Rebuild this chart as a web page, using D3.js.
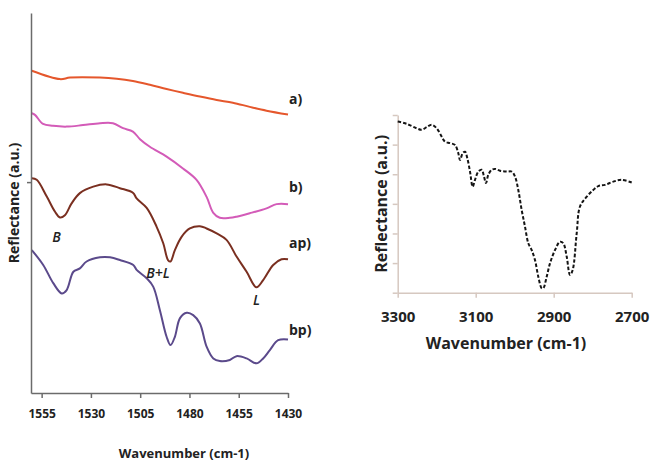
<!DOCTYPE html>
<html>
<head>
<meta charset="utf-8">
<title>Reflectance spectra</title>
<style>
  body { margin: 0; background: #fff; }
  svg { display: block; }
  text { font-family: 'Open Sans', sans-serif; font-weight: bold; fill: #222; }
  .left-axis path, .left-axis line { stroke: #6b6b6b; stroke-width: 1.5; }
  .right-axis path, .right-axis line { stroke: #d6c8c0; stroke-width: 1.5; }
  .spectrum { fill: none; stroke-width: 2; stroke-linejoin: round; }
</style>
</head>
<body>
<script src="https://cdn.jsdelivr.net/npm/d3@7"></script>
<script>

// left panel: 1560-1430 cm-1, four spectra (a.u.)
var aWave  = [1560, 1545.7, 1540.6, 1525.4, 1516.9, 1508.7, 1500.1, 1491.6, 1483.3, 1474.7, 1466.2, 1458, 1449.4, 1440.9, 1430];
var aRefl  = [84.8, 82.6, 83.0, 83.0, 82.7, 82.1, 81.1, 80.0, 79.0, 78.0, 77.1, 76.4, 75.3, 74.3, 73.3];

var bWave  = [1560, 1558.4, 1554.3, 1549.2, 1542.3, 1534, 1525.4, 1518.8, 1513.7, 1508.7, 1505.1, 1500.1, 1491.6, 1483.3, 1476.4, 1471.3, 1467.9, 1464.6, 1459.5, 1456.1, 1449.4, 1440.9, 1435.8, 1430];
var bRefl  = [73.6, 73.2, 70.8, 70.3, 70.1, 70.5, 71.0, 71.0, 69.7, 68.8, 66.8, 64.8, 62.2, 59.1, 56.1, 51.6, 47.4, 46.1, 46.1, 46.4, 47.3, 48.6, 49.7, 49.7];

var apWave = [1560, 1557.5, 1552.4, 1548.2, 1545.7, 1543.2, 1539.8, 1535.6, 1528.8, 1522, 1515.3, 1508.7, 1506.8, 1501.7, 1496.7, 1493.3, 1490.8, 1489.6, 1487.4, 1484, 1479.8, 1474.7, 1471.3, 1466.2, 1461.2, 1456.1, 1451, 1446, 1442.6, 1437.5, 1433.3, 1430];
var apRefl = [56.5, 56.1, 51.7, 47.7, 46.2, 46.8, 49.9, 52.6, 54.3, 54.9, 53.9, 52.7, 51.2, 48.7, 43.8, 39.4, 34.9, 34.6, 37.6, 41.1, 43.3, 43.9, 43.3, 42.0, 40.3, 35.9, 31.9, 27.8, 29.7, 33.7, 35.2, 35.2];

var bpWave = [1560, 1554.2, 1549.1, 1544.8, 1542.3, 1538.9, 1535.6, 1532.2, 1525.4, 1520.3, 1515.3, 1508.5, 1506.8, 1501.7, 1498.4, 1495, 1491.6, 1489.6, 1487.4, 1484.8, 1481.4, 1478.1, 1474.7, 1471.3, 1467.9, 1464.6, 1459.5, 1456.1, 1451, 1446, 1442.6, 1439.2, 1435, 1430];
var bpRefl = [37.6, 33.7, 28.9, 26.2, 27.1, 31.9, 32.8, 34.6, 35.7, 35.7, 35.0, 33.7, 32.4, 30.2, 28.0, 21.8, 14.8, 12.6, 14.8, 19.7, 21.1, 20.5, 18.3, 12.2, 9.1, 8.4, 8.7, 9.7, 9.1, 7.8, 9.1, 11.3, 13.9, 14.1];

var leftTicks = [1555, 1530, 1505, 1480, 1455, 1430];
var seriesNames  = ["a)", "b)", "ap)", "bp)"];
var seriesColors = ["#e5572c", "#d35bb8", "#7a2f20", "#5b4a8b"];
var nameShift    = [-10, -12, -11, -4]; // px above the end of each line

// peak labels (italic): text, wavenumber, reflectance
var peakText = ["B", "B+L", "L"];
var peakWave = [1547.5, 1496, 1446];
var peakRefl = [39.7, 30.3, 23.2];

// right panel: 3300-2700 cm-1
var cWave = [3300, 3276.9, 3251.3, 3238.5, 3225.6, 3212.8, 3200, 3187.2, 3178.7, 3165.9, 3153.1, 3144.6, 3140.3, 3133.3, 3127.4, 3121.5, 3114.6, 3107.7, 3101.8, 3093.3, 3084.6, 3078.7, 3073.6, 3067.7, 3059, 3050.5, 3037.7, 3020.5, 3007.7, 2999.2, 2990.8, 2982.1, 2973.6, 2965.1, 2956.4, 2947.9, 2939.5, 2930.8, 2926.7, 2918, 2909.5, 2896.7, 2883.8, 2875.4, 2866.7, 2858.2, 2851.3, 2841, 2832.6, 2815.4, 2798.5, 2785.6, 2768.5, 2747.2, 2725.6, 2700];
var cRefl = [5.78, 5.70, 5.55, 5.50, 5.59, 5.67, 5.55, 5.27, 5.10, 5.05, 4.99, 4.71, 4.48, 4.71, 4.76, 4.54, 4.09, 3.58, 3.81, 4.09, 4.15, 3.92, 3.70, 3.98, 4.15, 4.18, 4.12, 4.09, 4.09, 3.92, 3.47, 2.79, 2.23, 1.67, 1.44, 1.10, 0.54, 0.15, 0.15, 0.54, 0.99, 1.44, 1.72, 1.67, 1.22, 0.60, 0.77, 2.01, 2.91, 3.24, 3.47, 3.60, 3.64, 3.75, 3.81, 3.72];
var rightTicks = [3300, 3100, 2900, 2700];

var W = 650, H = 464;

var svg = d3.select("body").append("svg")
    .attr("width", W)
    .attr("height", H);

// ---------- left panel ----------
var lm = {left: 31, top: 13},
    lw = 257,
    lh = 380;

var xL = d3.scaleLinear().domain([1560.4, 1430]).range([0, lw]);
var yL = d3.scaleLinear().domain([0, 100]).range([lh, 0]);

var gL = svg.append("g").attr("transform", "translate(" + lm.left + "," + lm.top + ")");

var leftSeries = [
    {w: aWave, r: aRefl},
    {w: bWave, r: bRefl},
    {w: apWave, r: apRefl},
    {w: bpWave, r: bpRefl}
];

var lineL = d3.line()
    .x(function(d){ return xL(d[0]); })
    .y(function(d){ return yL(d[1]); })
    .curve(d3.curveCatmullRom.alpha(0.5));

leftSeries.forEach(function(s, i){
    var pts = s.w.map(function(w, j){ return [w, s.r[j]]; });
    gL.append("path")
        .attr("class", "spectrum")
        .attr("d", lineL(pts))
        .attr("stroke", seriesColors[i]);

    gL.append("text")
        .attr("x", lw + 1)
        .attr("y", yL(s.r[s.r.length - 1]) + nameShift[i])
        .style("font-size", "14px")
        .text(seriesNames[i]);
});

peakText.forEach(function(t, i){
    gL.append("text")
        .attr("x", xL(peakWave[i]))
        .attr("y", yL(peakRefl[i]))
        .attr("text-anchor", "middle")
        .style("font-size", "14px")
        .style("font-style", "italic")
        .style("font-weight", "600")
        .text(t);
});

gL.append("g")
    .attr("class", "left-axis")
    .attr("transform", "translate(0," + lh + ")")
    .call(d3.axisBottom(xL).tickValues(leftTicks).tickFormat(d3.format("d")).tickSize(5).tickSizeOuter(0))
    .call(function(g){
        g.selectAll("text").attr("dy", "1.45em").style("font-size", "12px").style("fill", "#222");
    });

gL.append("g")
    .attr("class", "left-axis")
    .call(d3.axisLeft(yL).tickValues([55.5]).tickSize(4).tickSizeOuter(0).tickFormat(""));

svg.append("text")
    .attr("x", 184)
    .attr("y", 458)
    .attr("text-anchor", "middle")
    .style("font-size", "13px")
    .text("Wavenumber (cm-1)");

svg.append("text")
    .attr("transform", "translate(19," + (lm.top + lh / 2) + ") rotate(-90)")
    .attr("text-anchor", "middle")
    .style("font-size", "14px")
    .text("Reflectance (a.u.)");

// ---------- right panel ----------
var rm = {left: 397.7, top: 115},
    rw = 234,
    rh = 177.7;

var xR = d3.scaleLinear().domain([3300, 2700]).range([0, rw]);
var yR = d3.scaleLinear().domain([0, 6]).range([rh, 0]);

var gR = svg.append("g").attr("transform", "translate(" + rm.left + "," + rm.top + ")");

gR.append("g")
    .attr("class", "right-axis")
    .attr("transform", "translate(0," + rh + ")")
    .call(d3.axisBottom(xR).tickValues(rightTicks).tickFormat(d3.format("d")).tickSize(5).tickSizeOuter(0))
    .call(function(g){
        g.selectAll("text").attr("dy", "1.45em").style("font-size", "15px").style("fill", "#222");
    });

gR.append("g")
    .attr("class", "right-axis")
    .call(d3.axisLeft(yR).ticks(6).tickSize(5).tickSizeOuter(0).tickFormat(""));

var lineR = d3.line()
    .x(function(d, i){ return xR(cWave[i]); })
    .y(function(d){ return yR(d); })
    .curve(d3.curveCatmullRom.alpha(0.5));

gR.append("path")
    .attr("class", "spectrum")
    .attr("d", lineR(cRefl))
    .attr("stroke", "#141414")
    .attr("stroke-width", 2.6)
    .attr("stroke-dasharray", "3.5,2");

svg.append("text")
    .attr("x", 506)
    .attr("y", 349)
    .attr("text-anchor", "middle")
    .style("font-size", "16px")
    .text("Wavenumber (cm-1)");

svg.append("text")
    .attr("transform", "translate(387," + (rm.top + rh / 2) + ") rotate(-90)")
    .attr("text-anchor", "middle")
    .style("font-size", "16px")
    .text("Reflectance (a.u.)");

</script>
</body>
</html>
